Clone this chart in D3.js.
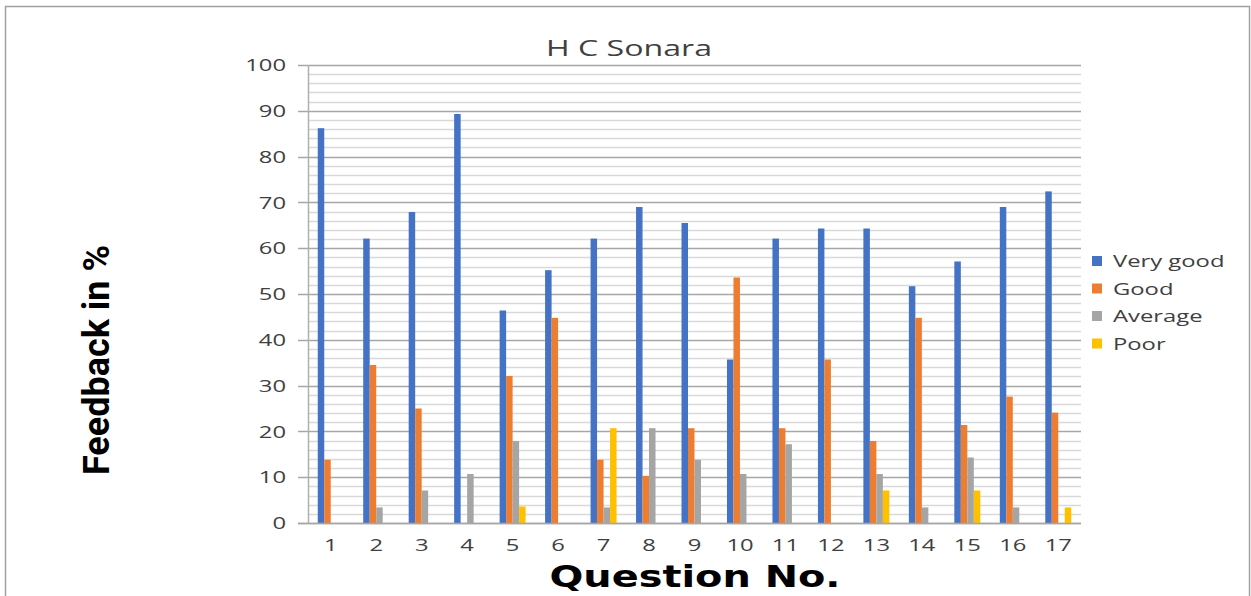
<!DOCTYPE html>
<html><head><meta charset="utf-8">
<script src="https://cdn.jsdelivr.net/npm/d3@7"></script>
<style>body{margin:0;background:#fff}svg{display:block}</style>
</head><body>
<script>
const categories = ["1","2","3","4","5","6","7","8","9","10","11","12","13","14","15","16","17"];
const seriesNames = ["Very good","Good","Average","Poor"];
const veryGood = [86.2,62.1,67.9,89.3,46.4,55.2,62.1,69.0,65.5,35.7,62.1,64.3,64.3,51.7,57.1,69.0,72.4];
const good     = [13.8,34.5,25.0,0,32.1,44.8,13.8,10.3,20.7,53.6,20.7,35.7,17.9,44.8,21.4,27.6,24.1];
const average  = [0,3.4,7.1,10.7,17.9,0,3.4,20.7,13.8,10.7,17.2,0,10.7,3.4,14.3,3.4,0];
const poor     = [0,0,0,0,3.6,0,20.7,0,0,0,0,0,7.1,0,7.1,0,3.4];
const colors = ["#4472C4","#ED7D31","#A5A5A5","#FFC000"];
const yTicks = [0,10,20,30,40,50,60,70,80,90,100];
const title = "H C Sonara", xTitle = "Question No.", yTitle = "Feedback in %";

const W=1251,H=596, SX=1.4;
const svg=d3.select("body").append("svg").attr("width",W).attr("height",H);
svg.append("rect").attr("x",5.5).attr("y",6.5).attr("width",1244).attr("height",600).attr("fill","#fff").attr("stroke","#a0a0a0").attr("stroke-width",1.5);

const L=308,R=1081,T=65,B=523;
const x=d3.scaleBand().domain(categories).range([L,R]).paddingInner(0).paddingOuter(0);
const y=d3.scaleLinear().domain([0,100]).range([B,T]);
const barW=x.bandwidth()/7;
const x1=d3.scaleBand().domain(seriesNames).range([barW*1.5,barW*5.5]);

const minor=d3.range(0,101,2).filter(v=>v%10!==0);
svg.append("g").selectAll("line").data(minor).join("line")
 .attr("x1",L).attr("x2",R).attr("y1",d=>Math.round(y(d))+0.5).attr("y2",d=>Math.round(y(d))+0.5)
 .attr("stroke","#d9d9d9").attr("stroke-width",1.5);
svg.append("g").selectAll("line").data(yTicks).join("line")
 .attr("x1",298).attr("x2",R).attr("y1",d=>Math.round(y(d))+0.5).attr("y2",d=>Math.round(y(d))+0.5)
 .attr("stroke","#a6a6a6").attr("stroke-width",1.5);
svg.append("line").attr("x1",L+0.5).attr("x2",L+0.5).attr("y1",T).attr("y2",B).attr("stroke","#b0b0b0").attr("stroke-width",1.5);

const data=[veryGood,good,average,poor];
data.forEach((arr,si)=>{
  svg.append("g").selectAll("rect").data(arr).join("rect")
   .attr("x",(d,i)=>x(categories[i])+x1(seriesNames[si]))
   .attr("width",x1.bandwidth())
   .attr("y",d=>y(d)).attr("height",d=>B-y(d))
   .attr("fill",colors[si]);
});
svg.append("line").attr("x1",298).attr("x2",R).attr("y1",B+0.5).attr("y2",B+0.5).attr("stroke","#a6a6a6").attr("stroke-width",1.5);

const font="Open Sans, sans-serif";
svg.append("g").selectAll("text").data(yTicks).join("text")
 .attr("transform",d=>`translate(286,${y(d)}) scale(${SX},1)`).attr("dy","0.36em").attr("text-anchor","end")
 .attr("font-family",font).attr("font-size",17).attr("fill","#404040").text(d=>d);
svg.append("g").selectAll("text").data(categories).join("text")
 .attr("transform",d=>`translate(${x(d)+x.bandwidth()/2},551) scale(${SX},1)`).attr("text-anchor","middle")
 .attr("font-family",font).attr("font-size",17).attr("fill","#404040").text(d=>d);

svg.append("text").attr("x",629).attr("y",56).attr("text-anchor","middle")
 .attr("font-family",font).attr("font-size",21).attr("textLength",166).attr("lengthAdjust","spacingAndGlyphs")
 .attr("fill","#404040").text(title);
svg.append("text").attr("x",695).attr("y",587).attr("text-anchor","middle")
 .attr("font-family","DejaVu Sans, sans-serif").attr("font-weight","bold").attr("font-size",30)
 .attr("textLength",291).attr("lengthAdjust","spacingAndGlyphs").attr("fill","#000").text(xTitle);
svg.append("text").attr("transform","translate(109,360) rotate(-90)").attr("text-anchor","middle")
 .attr("font-family","Roboto, sans-serif").attr("font-weight","bold").attr("font-size",36)
 .attr("textLength",230).attr("lengthAdjust","spacingAndGlyphs").attr("fill","#000").text(yTitle);

const lg=svg.append("g");
seriesNames.forEach((n,i)=>{
  const yy=261+i*27.5;
  lg.append("rect").attr("x",1092).attr("y",yy-5).attr("width",10).attr("height",10).attr("fill",colors[i]);
  lg.append("text").attr("transform",`translate(1113,${yy}) scale(${SX},1)`).attr("dy","0.36em")
   .attr("font-family",font).attr("font-size",17).attr("fill","#404040").text(n);
});
</script>
</body></html>
